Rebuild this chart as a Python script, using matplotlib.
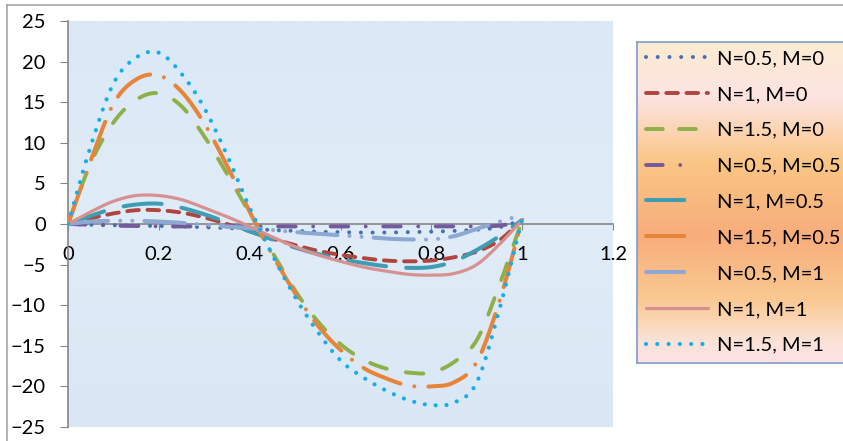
import matplotlib
matplotlib.use('Agg')

import numpy as np
import matplotlib.pyplot as plt
from matplotlib.lines import Line2D
from matplotlib.colors import LinearSegmentedColormap

plt.rcParams['font.family'] = ['Lato', 'DejaVu Sans']

# data
x = [0.0, 0.05, 0.1, 0.15, 0.2, 0.25, 0.3, 0.35, 0.4, 0.45, 0.5,
     0.55, 0.6, 0.65, 0.7, 0.75, 0.8, 0.85, 0.9, 0.95, 1.0]

n05_m0 = [0.0, -0.1, -0.15, -0.2, -0.25, -0.3, -0.4, -0.5, -0.6, -0.75, -0.85,
          -0.95, -1.0, -1.05, -1.05, -1.0, -0.95, -0.85, -0.7, -0.4, 0.5]
n1_m0 = [0.0, 0.7, 1.3, 1.7, 1.7, 1.4, 0.8, 0.0, -0.9, -1.8, -2.6,
         -3.3, -3.8, -4.2, -4.5, -4.6, -4.5, -4.1, -3.4, -2.0, 0.5]
n15_m0 = [0.0, 7.5, 12.5, 15.3, 16.1, 14.5, 10.8, 6.2, 1.3, -3.5, -8.2,
          -12.0, -14.8, -16.7, -17.8, -18.3, -18.3, -17.0, -14.3, -7.5, 0.5]
n05_m05 = [0.0, -0.1, -0.2, -0.25, -0.3, -0.3, -0.3, -0.3, -0.3, -0.3, -0.3,
           -0.3, -0.3, -0.3, -0.3, -0.3, -0.3, -0.3, -0.3, -0.2, 0.3]
n1_m05 = [0.0, 1.0, 1.9, 2.4, 2.5, 2.0, 1.2, 0.2, -0.9, -1.9, -2.9,
          -3.7, -4.3, -4.8, -5.2, -5.4, -5.3, -4.6, -3.2, -1.5, 0.5]
n15_m05 = [0.0, 7.8, 14.8, 17.8, 18.3, 16.3, 12.4, 7.2, 1.5, -3.8, -8.5,
           -12.5, -15.5, -17.7, -19.0, -19.9, -20.0, -19.5, -17.0, -9.5, 0.5]
n05_m1 = [0.0, 0.3, 0.4, 0.4, 0.3, 0.15, -0.1, -0.3, -0.5, -0.75, -1.0,
          -1.2, -1.4, -1.6, -1.8, -1.9, -1.9, -1.5, -0.6, 0.3, 1.1]
n1_m1 = [0.0, 1.5, 2.8, 3.5, 3.5, 3.0, 2.0, 0.9, -0.3, -1.6, -2.8,
         -3.8, -4.6, -5.3, -5.8, -6.2, -6.3, -6.1, -5.0, -2.5, 0.5]
n15_m1 = [0.0, 9.6, 17.3, 20.5, 21.1, 18.5, 14.3, 8.5, 2.0, -3.8, -9.0,
          -13.3, -16.8, -18.9, -20.5, -21.7, -22.3, -22.0, -19.5, -10.5, 0.7]

labels = ['N=0.5, M=0', 'N=1, M=0', 'N=1.5, M=0', 'N=0.5, M=0.5', 'N=1, M=0.5',
          'N=1.5, M=0.5', 'N=0.5, M=1', 'N=1, M=1', 'N=1.5, M=1']
series = [n05_m0, n1_m0, n15_m0, n05_m05, n1_m05, n15_m05, n05_m1, n1_m1, n15_m1]

colors = ['#4472B0', '#B0453F', '#8DB049', '#735A9C', '#3E9DB3',
          '#E6843A', '#8EA8D4', '#D69190', '#12AEEB']
# dash patterns (in linewidth units), excel-ish styles; 'leg' is how the legend sample looks
styles = [
    dict(lw=2.9, ls=(0, (0.01, 2.9)), leg=(0, (0.01, 2.9))),
    dict(lw=2.8, ls=(0, (3.0, 2.2)), leg=(0, (3.0, 2.2))),
    dict(lw=2.8, ls=(0, (4.5, 5.0)), leg=(0, (4.3, 4.2))),
    dict(lw=2.8, ls=(0, (4.5, 4.5, 0.01, 4.5)), leg=(0, (4.3, 4.5, 0.01, 30))),
    dict(lw=2.9, ls=(0, (9.5, 5.0)), leg=(0, (9.5, 30))),
    dict(lw=2.9, ls=(0, (10.0, 3.5, 0.01, 3.5)), leg=(0, (9.5, 30))),
    dict(lw=2.9, ls=(0, (10.0, 3.0, 0.01, 3.0, 0.01, 3.0)), leg=(0, (9.5, 30))),
    dict(lw=2.3, ls='-', leg='-'),
    dict(lw=3.0, ls=(0, (0.01, 2.6)), leg=(0, (0.01, 2.7))),
]


def smooth(xs, ys, n=12):
    """Catmull-Rom style curve, like Excel's smoothed lines."""
    xs = np.asarray(xs, float)
    ys = np.asarray(ys, float)
    px = np.concatenate([[2 * xs[0] - xs[1]], xs, [2 * xs[-1] - xs[-2]]])
    py = np.concatenate([[2 * ys[0] - ys[1]], ys, [2 * ys[-1] - ys[-2]]])
    t = np.linspace(0, 1, n, endpoint=False)[:, None]
    out_x, out_y = [], []
    for i in range(1, len(px) - 2):
        for arr, out in ((px, out_x), (py, out_y)):
            p0, p1, p2, p3 = arr[i - 1], arr[i], arr[i + 1], arr[i + 2]
            seg = 0.5 * ((2 * p1) + (-p0 + p2) * t +
                         (2 * p0 - 5 * p1 + 4 * p2 - p3) * t ** 2 +
                         (-p0 + 3 * p1 - 3 * p2 + p3) * t ** 3)
            out.append(seg.ravel())
    out_x.append([xs[-1]])
    out_y.append([ys[-1]])
    return np.concatenate(out_x), np.concatenate(out_y)


W, H = 843, 441
fig = plt.figure(figsize=(W / 100, H / 100), dpi=100)
fig.patch.set_facecolor('white')

# outer chart border
fig.add_artist(Line2D([7 / W, 7 / W], [0, 1 - 5 / H], transform=fig.transFigure,
                      color='#A6A6A6', lw=1.2))
fig.add_artist(Line2D([7 / W, 1], [1 - 5 / H, 1 - 5 / H], transform=fig.transFigure,
                      color='#A6A6A6', lw=1.2))

ax = fig.add_axes([68 / W, 1 - 427 / H, (613 - 68) / W, (427 - 21) / H])

# light blue plot area
bg = np.linspace(0, 1, 200)[:, None] * np.ones((1, 300))
bg_cmap = LinearSegmentedColormap.from_list('bg', ['#DBE8F6', '#E0ECF7', '#DAE7F5'])
ax.imshow(bg, extent=[0, 1.2, -25, 25], aspect='auto', cmap=bg_cmap, zorder=0)

proxies = []
for ys, lab, c, st in zip(series, labels, colors, styles):
    sx, sy = smooth(x, ys)
    ax.plot(sx, sy, color=c, lw=st['lw'], linestyle=st['ls'],
            dash_capstyle='round', solid_capstyle='round', zorder=3)
    proxies.append(Line2D([], [], color=c, lw=st['lw'], linestyle=st['leg'],
                          dash_capstyle='round', solid_capstyle='round'))

ax.set_xlim(0, 1.2)
ax.set_ylim(-25, 25)
ax.set_xticks([0, 0.2, 0.4, 0.6, 0.8, 1.0, 1.2])
ax.set_xticklabels(['0', '0.2', '0.4', '0.6', '0.8', '1', '1.2'])
ax.set_yticks(range(-25, 30, 5))

for s in ['top', 'right']:
    ax.spines[s].set_visible(False)
ax.spines['bottom'].set_position(('data', 0))
ax.spines['bottom'].set_color('#868686')
ax.spines['left'].set_color('#868686')
ax.spines['bottom'].set_linewidth(1.2)
ax.spines['left'].set_linewidth(1.2)
ax.spines['bottom'].set_zorder(2)
ax.tick_params(axis='x', direction='out', length=4, color='#868686', labelsize=14.5, pad=12)
ax.tick_params(axis='y', direction='out', length=6, color='#868686', labelsize=14.5, pad=10)

# legend with orange gradient backdrop
lx0, ly0, lx1, ly1 = 637, 42, 850, 363
lax = fig.add_axes([lx0 / W, 1 - ly1 / H, (lx1 - lx0) / W, (ly1 - ly0) / H], zorder=5)
grad = np.linspace(0, 1, 256)[:, None]
leg_cmap = LinearSegmentedColormap.from_list(
    'leg', [(0.0, '#FCEBD2'), (0.17, '#FDE4E2'), (0.38, '#FAC584'),
            (0.6, '#F8AD7C'), (0.8, '#FAC890'), (0.93, '#FCE2D6'), (1.0, '#FDE2E6')])
lax.imshow(grad, extent=[0, 1, 1, 0], aspect='auto', cmap=leg_cmap)
lax.set_xlim(0, 1)
lax.set_ylim(1, 0)
lax.set_xticks([])
lax.set_yticks([])
for s in lax.spines.values():
    s.set_color('#7F9CCB')
    s.set_linewidth(1.2)

leg = fig.legend(proxies, labels, loc='upper left',
                 bbox_to_anchor=(642 / W, 1 - 46 / H), frameon=False,
                 fontsize=14.5, handlelength=3.1, handletextpad=0.4,
                 labelspacing=0.93, borderaxespad=0, borderpad=0.2)
leg.set_zorder(6)

fig.savefig('out.png', dpi=100, facecolor=fig.get_facecolor())
plt.close(fig)
